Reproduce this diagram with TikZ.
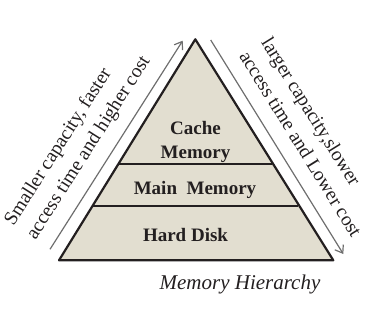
\documentclass[tikz,border=0pt]{standalone}
\usepackage{fontspec}
\setmainfont{Liberation Serif}
\usetikzlibrary{arrows.meta}

\definecolor{pyrfill}{RGB}{226,222,208}
\definecolor{pyrline}{RGB}{35,31,32}
\definecolor{arrgray}{RGB}{110,110,110}

\tikzset{
  layer/.style={font=\fontsize{19}{24}\selectfont\bfseries, text=pyrline, align=center, inner sep=0pt},
  sidetext/.style={font=\fontsize{19.5}{26}\selectfont, text=pyrline, align=left, inner sep=0pt},
  trend/.style={draw=arrgray, line width=1.2pt, -{Straight Barb[length=7pt,width=10pt]}}
}

\begin{document}
\begin{tikzpicture}[x=1pt, y=-1pt, line join=round]

  %% ==== pyramid corners ====
  \coordinate (apex) at (195.3,39.3);
  \coordinate (bl) at (59.0,260.3);
  \coordinate (br) at (333.3,260.3);
  \coordinate (c1l) at (118.3,164.3);
  \coordinate (c1r) at (272.3,164.3);
  \coordinate (c2l) at (92.7,205.7);
  \coordinate (c2r) at (297.9,205.7);

  %% ==== body ====
  \fill[pyrfill] (apex) -- (br) -- (bl) -- cycle;
  \draw[pyrline, line width=2pt] (c1l) -- (c1r);
  \draw[pyrline, line width=2pt] (c2l) -- (c2r);
  \draw[pyrline, line width=2.2pt] (apex) -- (br) -- (bl) -- cycle;

  %% ==== layer labels ====
  \node[layer] (cache) at (195.5,142.0) {Cache\\Memory};
  \node[layer] (main) at (195.0,189.5) {Main\ \ Memory};
  \node[layer] (disk) at (185.5,235.5) {Hard Disk};

  %% ==== side arrows ====
  \coordinate (upfrom) at (50.0,249.3);
  \coordinate (upto) at (182.7,40.7);
  \coordinate (downfrom) at (210.7,40.0);
  \coordinate (downto) at (343.3,254.0);
  \draw[trend] (upfrom) -- (upto);
  \draw[trend] (downfrom) -- (downto);

  \node[sidetext, rotate=57.5] (uptext) at (78.0,141.0)
    {Smaller capacity, faster\\access time and higher cost};
  \node[sidetext, rotate=-58.2] (downtext) at (312.0,137.0)
    {larger capacity,slower\\access time and Lower cost};

  %% ==== caption ====
  \node[font=\fontsize{21}{25}\selectfont\itshape, text=pyrline, inner sep=0pt] (caption) at (240.0,284.0) {Memory Hierarchy};

  \pgfresetboundingbox
  \path[use as bounding box] (0,0) rectangle (389,313);
\end{tikzpicture}
\end{document}
